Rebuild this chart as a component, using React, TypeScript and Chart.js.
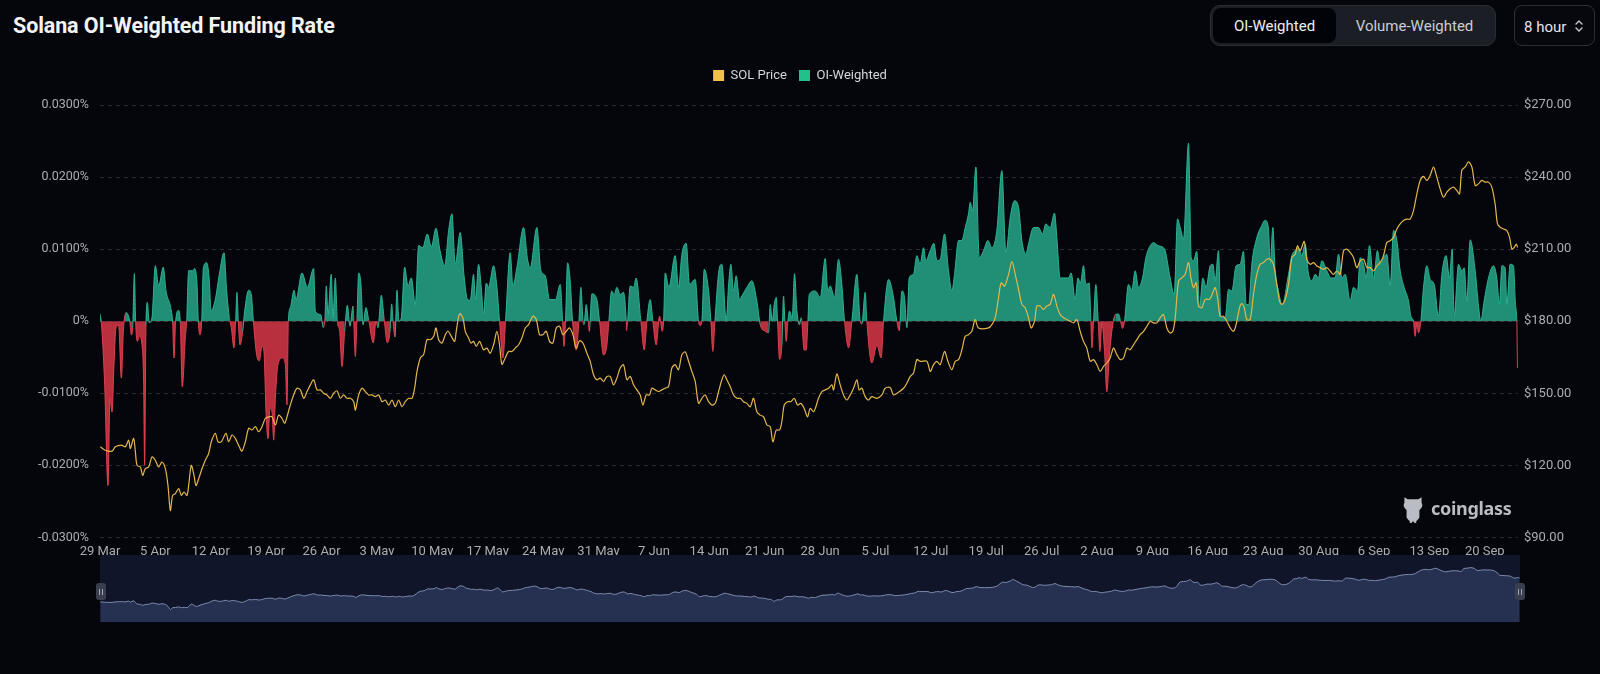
import React, { useEffect, useRef } from 'react';
import { Chart, registerables } from 'chart.js';

Chart.register(...registerables);

// ---------- data ----------
const xTickLabels = ['29 Mar', '5 Apr', '12 Apr', '19 Apr', '26 Apr', '3 May', '10 May', '17 May', '24 May', '31 May', '7 Jun', '14 Jun', '21 Jun', '28 Jun', '5 Jul', '12 Jul', '19 Jul', '26 Jul', '2 Aug', '9 Aug', '16 Aug', '23 Aug', '30 Aug', '6 Sep', '13 Sep', '20 Sep'];
const xTickDays = [0, 7, 14, 21, 28, 35, 42, 49, 56, 63, 70, 77, 84, 91, 98, 105, 112, 119, 126, 133, 140, 147, 154, 161, 168, 175];
const lastDay = 179.2;

const fundingTicks = [-0.03, -0.02, -0.01, 0, 0.01, 0.02, 0.03];
const priceTicks = [90, 120, 150, 180, 210, 240, 270];

// days since 29 Mar
const fundingDays = [
  0.0, 0.17, 0.59, 1.01, 1.26, 1.52, 1.77, 2.02, 2.36, 2.70, 2.95, 3.29, 3.79, 3.96, 4.13, 4.34, 4.51, 4.72, 4.97, 5.31,
  5.52, 5.64, 5.81, 5.98, 6.23, 6.57, 6.99, 7.41, 8.00, 8.34, 8.93, 9.18, 9.35, 9.56, 9.94, 10.15, 10.40, 10.78, 10.95, 11.20,
  11.71, 11.96, 12.26, 12.43, 12.64, 12.85, 13.06, 13.48, 13.82, 14.03, 14.57, 15.08, 15.67, 16.01, 16.34, 16.60, 16.93, 17.14, 17.31, 17.48,
  17.69, 18.03, 18.28, 18.79, 19.12, 19.38, 19.80, 20.13, 20.47, 20.72, 20.98, 21.23, 21.48, 21.74, 21.95, 22.16, 22.49, 23.08, 23.42, 23.63,
  23.80, 24.09, 24.52, 24.77, 25.53, 26.20, 27.00, 27.21, 27.89, 28.22, 28.43, 28.60, 28.81, 29.23, 29.44, 29.74, 29.99, 30.29, 30.58, 30.92,
  31.26, 31.59, 31.97, 32.27, 32.48, 32.69, 32.98, 33.24, 33.61, 33.95, 34.54, 34.88, 35.13, 35.55, 35.89, 36.31, 36.65, 36.86, 37.03, 37.28,
  37.53, 37.78, 38.08, 38.50, 38.92, 39.34, 39.85, 40.27, 40.78, 41.37, 41.87, 42.46, 42.97, 43.56, 44.06, 44.48,
  44.89, 45.52, 46.03, 46.45, 46.79, 47.21, 47.46, 47.84, 48.18, 48.47, 48.81, 49.10, 49.74, 50.16, 50.49, 50.92, 51.25, 51.84, 52.18, 52.68,
  53.53, 54.03, 54.37, 55.21, 55.72, 56.27, 56.81, 57.57, 58.16, 58.46, 58.62, 58.83, 59.09, 59.42, 59.72, 60.18, 60.52, 60.77, 61.03, 61.15,
  61.45, 61.70, 61.83, 62.16, 62.79, 63.13, 63.64, 64.06, 64.31, 64.65, 64.98, 65.32, 65.74, 66.16, 66.50, 66.54, 66.67, 67.01, 67.43, 67.76,
  68.35, 68.78, 69.11, 69.53, 69.87, 70.29, 70.71, 71.05, 71.22, 71.43, 71.89, 72.69, 73.11, 73.54, 74.08, 74.50, 75.22, 75.64, 75.85, 76.06,
  76.36, 76.91, 77.20, 77.45, 77.71, 78.21, 78.59, 79.14, 79.43, 79.73, 80.06, 80.40, 80.82, 81.12, 81.75, 82.38, 83.01, 83.44, 84.07, 84.49,
  84.70, 84.95, 85.20, 85.46, 85.62, 85.88, 86.17, 86.38, 86.55, 86.72, 86.93, 87.14, 87.48, 87.77, 88.07, 88.40, 88.62, 88.99, 89.25, 89.46,
  89.63, 90.38, 91.02, 91.65, 91.98, 92.28, 92.83, 93.33, 93.75, 94.09, 94.60, 95.02, 95.65, 96.07, 96.28, 96.70, 96.91, 97.54, 98.18, 98.72,
  99.02, 99.65, 100.28, 100.70, 101.00, 101.34, 101.67, 101.97, 102.26, 102.81, 103.23, 103.65, 104.07, 104.37, 104.92, 105.38, 105.76, 106.18, 106.73, 107.23,
  107.65, 107.99, 108.50, 108.92, 109.34, 109.76, 109.97, 110.27, 110.69, 111.11, 111.66, 112.20, 112.71, 113.34, 113.97, 114.48, 115.03, 115.57, 116.08, 116.50,
  117.01, 117.34, 117.97, 118.61, 119.11, 119.53, 120.08, 120.63, 120.92, 121.34, 122.40, 122.73, 123.24, 123.58, 123.91, 124.29, 124.59, 125.01, 125.22, 125.35,
  125.56, 125.85, 126.15, 126.36, 126.61, 126.95, 127.24, 127.54, 127.87, 128.30, 128.72, 128.97, 129.22, 129.47, 129.98, 130.40, 130.82, 131.24, 131.75, 132.17,
  132.59, 133.14, 133.69, 134.40,
  134.61, 135.24, 135.75, 136.17, 136.51, 136.93, 137.56, 137.90, 138.19, 138.61, 138.95, 139.37, 139.79, 140.30, 140.64, 140.93, 141.35, 141.65, 142.19, 142.62,
  143.04, 143.58, 144.09, 144.51, 144.85, 145.18, 145.56, 146.20, 146.83, 147.25, 147.67, 147.88, 148.22, 148.51, 148.93, 149.40, 150.20, 150.62, 151.04, 151.46,
  151.88, 152.30, 152.73, 153.15, 153.57, 153.99, 154.41, 155.04, 155.55, 156.09, 156.52, 156.94, 157.36, 157.99, 158.41, 158.92, 159.25, 159.68, 160.01, 160.43,
  160.94, 161.44, 161.78, 162.20, 162.62, 163.05, 163.47, 163.89, 164.31, 164.81, 165.36, 165.66, 165.99, 166.20, 166.42, 166.63, 166.92, 167.26, 167.68, 168.10,
  168.61, 169.15, 169.58, 170.12, 170.54, 170.88, 171.13, 171.68, 172.10, 172.40, 172.73, 173.16, 173.79, 174.21, 174.50, 174.92, 175.47, 176.10, 176.52, 176.86,
  177.16, 177.58, 177.79, 178.21, 178.63, 178.88, 179.05, 179.13,
];

// OI-weighted funding rate, in %
const fundingRates = [
  0.0010, -0.0002, -0.0088, -0.0228, -0.0107, -0.0126, -0.0060, -0.0009, -0.0006, -0.0079, -0.0014, 0.0012, -0.0002, -0.0019, -0.0009, 0.0066, -0.0002, -0.0028, -0.0021, -0.0033,
  -0.0088, -0.0200, -0.0005, 0.0026, -0.0002, 0.0005, 0.0077, 0.0049, 0.0075, 0.0042, 0.0019, -0.0002, -0.0051, 0.0000, 0.0015, -0.0002, -0.0091, -0.0023, 0.0000, 0.0070,
  0.0070, 0.0073, 0.0051, -0.0002, -0.0019, 0.0000, 0.0074, 0.0081, 0.0056, 0.0014, 0.0030, 0.0065, 0.0095, 0.0042, 0.0005, -0.0009, -0.0037, 0.0000, 0.0040, 0.0000,
  -0.0033, -0.0014, 0.0014, 0.0043, 0.0037, 0.0000, -0.0047, -0.0055, -0.0035, -0.0042, -0.0126, -0.0163, -0.0121, -0.0126, -0.0165, -0.0107, -0.0060, -0.0051, -0.0060, -0.0116,
  0.0000, 0.0020, 0.0043, 0.0030, 0.0067, 0.0047, 0.0073, 0.0014, 0.0009, -0.0009, 0.0005, 0.0049, 0.0009, 0.0065, 0.0005, 0.0060, 0.0000, -0.0014, -0.0063, -0.0014,
  0.0022, -0.0007, 0.0021, -0.0049, 0.0005, 0.0067, 0.0051, -0.0005, 0.0019, 0.0002, -0.0030, 0.0000, -0.0009, 0.0036, 0.0005, -0.0030, -0.0014, 0.0024, 0.0000, -0.0022,
  0.0043, 0.0000, 0.0005, 0.0075, 0.0049, 0.0060, 0.0023, 0.0105, 0.0102, 0.0121, 0.0103, 0.0129, 0.0098, 0.0077, 0.0126, 0.0149,
  0.0079, 0.0123, 0.0060, 0.0030, 0.0029, 0.0065, 0.0030, 0.0079, 0.0047, 0.0010, 0.0053, 0.0047, 0.0077, 0.0047, 0.0000, -0.0051, 0.0000, 0.0095, 0.0049, 0.0074,
  0.0130, 0.0086, 0.0074, 0.0130, 0.0070, 0.0063, 0.0030, 0.0030, 0.0051, 0.0000, -0.0035, 0.0000, 0.0081, 0.0056, 0.0000, -0.0040, 0.0000, 0.0047, 0.0002, -0.0005,
  0.0023, 0.0000, -0.0014, 0.0038, 0.0030, 0.0000, -0.0047, -0.0033, 0.0000, 0.0042, 0.0037, 0.0047, 0.0037, 0.0040, 0.0000, -0.0013, 0.0000, 0.0049, 0.0047, 0.0060,
  0.0000, -0.0040, 0.0000, 0.0030, 0.0000, -0.0033, 0.0007, -0.0014, 0.0000, 0.0067, 0.0047, 0.0091, 0.0047, 0.0093, 0.0108, 0.0051, 0.0058, 0.0000, -0.0006, 0.0000,
  0.0072, 0.0042, 0.0000, -0.0042, 0.0000, 0.0070, 0.0079, 0.0000, 0.0049, 0.0079, 0.0042, 0.0063, 0.0030, 0.0035, 0.0047, 0.0056, 0.0028, -0.0005, -0.0014, -0.0016,
  0.0023, 0.0000, 0.0023, 0.0033, 0.0000, -0.0053, -0.0033, 0.0035, 0.0000, -0.0028, 0.0000, 0.0014, 0.0005, 0.0066, 0.0014, -0.0005, 0.0005, -0.0040, -0.0040, 0.0000,
  0.0037, 0.0042, 0.0033, 0.0087, 0.0042, 0.0049, 0.0033, 0.0086, 0.0051, 0.0000, -0.0037, 0.0000, 0.0065, 0.0000, -0.0004, 0.0040, 0.0000, -0.0058, -0.0033, -0.0051,
  0.0000, 0.0058, 0.0033, 0.0000, -0.0013, 0.0042, 0.0033, -0.0009, 0.0060, 0.0065, 0.0091, 0.0079, 0.0102, 0.0084, 0.0098, 0.0108, 0.0084, 0.0086, 0.0121, 0.0070,
  0.0042, 0.0065, 0.0112, 0.0112, 0.0130, 0.0149, 0.0165, 0.0153, 0.0214, 0.0088, 0.0098, 0.0112, 0.0102, 0.0126, 0.0209, 0.0095, 0.0144, 0.0167, 0.0158, 0.0112,
  0.0093, 0.0107, 0.0130, 0.0130, 0.0121, 0.0135, 0.0130, 0.0150, 0.0116, 0.0060, 0.0060, 0.0067, 0.0030, 0.0060, 0.0053, 0.0077, 0.0051, 0.0053, 0.0000, -0.0037,
  0.0000, 0.0051, 0.0000, -0.0042, -0.0002, -0.0042, -0.0098, -0.0051, -0.0014, 0.0009, 0.0010, 0.0000, -0.0010, 0.0000, 0.0051, 0.0043, 0.0070, 0.0047, 0.0060, 0.0088,
  0.0102, 0.0109, 0.0105, 0.0102,
  0.0098, 0.0060, 0.0037, 0.0142, 0.0130, 0.0114, 0.0247, 0.0088, 0.0084, 0.0097, 0.0019, 0.0060, 0.0047, 0.0077, 0.0079, 0.0056, 0.0098, 0.0005, 0.0005, 0.0044,
  0.0042, 0.0077, 0.0079, 0.0097, 0.0023, 0.0023, 0.0079, 0.0116, 0.0133, 0.0140, 0.0128, 0.0079, 0.0130, 0.0070, 0.0042, 0.0023, 0.0065, 0.0091, 0.0098, 0.0102,
  0.0091, 0.0107, 0.0065, 0.0056, 0.0065, 0.0060, 0.0084, 0.0070, 0.0060, 0.0060, 0.0093, 0.0060, 0.0065, 0.0028, 0.0047, 0.0042, 0.0088, 0.0079, 0.0060, 0.0105,
  0.0060, 0.0098, 0.0079, 0.0088, 0.0093, 0.0049, 0.0126, 0.0112, 0.0070, 0.0047, 0.0028, 0.0007, 0.0000, -0.0021, -0.0002, -0.0016, 0.0000, 0.0047, 0.0077, 0.0058,
  0.0051, 0.0007, 0.0065, 0.0091, 0.0060, 0.0100, 0.0007, 0.0079, 0.0070, 0.0074, 0.0028, 0.0113, 0.0070, 0.0021, 0.0000, 0.0028, 0.0060, 0.0077, 0.0060, 0.0023,
  0.0077, 0.0074, 0.0023, 0.0079, 0.0077, 0.0023, 0.0000, -0.0065,
];

const priceDays = [
  0.04, 0.67, 1.52, 1.94, 2.70, 3.20, 3.62, 3.83, 4.25, 4.47, 4.68, 5.10, 5.39, 5.73, 6.15, 6.57, 6.99, 7.41, 7.83, 8.26,
  8.59, 8.89, 9.18, 9.52, 9.94, 10.28, 10.62, 10.99, 11.20, 11.54, 11.88, 12.13, 12.47, 12.89, 13.31, 13.73, 14.07, 14.57, 14.91, 15.33,
  15.92, 16.26, 16.68, 17.10, 17.61, 17.94, 18.37, 18.79, 19.21, 19.63, 20.05, 20.47, 20.89, 21.31, 21.74, 22.16, 22.58, 23.00, 23.34, 23.63,
  24.05, 24.47, 24.89, 25.32, 25.74, 26.16, 26.58, 27.00, 27.42, 27.84, 28.26, 28.69, 29.11, 29.53, 29.95, 30.37, 30.79, 31.21, 31.63, 32.06,
  32.27, 32.69, 33.11, 33.53, 33.95, 34.37, 34.79, 35.22, 35.64, 36.06, 36.48, 36.90, 37.32, 37.74, 38.16, 38.58, 39.01, 39.43, 39.76, 40.06,
  40.48, 40.90, 41.32, 41.74, 42.17, 42.46, 42.80, 43.22, 43.64, 43.98, 44.40, 44.82,
  45.02, 45.44, 45.86, 46.16, 46.58, 46.87, 47.21, 47.55, 47.97, 48.47, 48.89, 49.31, 49.74, 50.16, 50.49, 50.79, 51.21, 51.63, 52.05, 52.47,
  52.90, 53.32, 53.74, 54.16, 54.71, 55.13, 55.55, 55.97, 56.39, 56.81, 57.23, 57.66, 58.08, 58.50, 58.92, 59.34, 59.76, 60.18, 60.60, 61.03,
  61.53, 61.95, 62.37, 62.79, 63.22, 63.64, 64.06, 64.48, 64.90, 65.32, 65.74, 66.16, 66.59, 67.01, 67.43, 67.85, 68.27, 68.61, 69.03, 69.45,
  69.74, 70.17, 70.59, 71.01, 71.43, 71.85, 72.27, 72.69, 73.11, 73.54, 73.96, 74.38, 74.80, 75.22, 75.64, 76.06, 76.48, 76.91, 77.33, 77.75,
  78.17, 78.59, 78.88, 79.22, 79.64, 80.06, 80.49, 80.91, 81.33, 81.75, 82.17, 82.59, 83.01, 83.44, 83.86, 84.28, 84.70, 85.04, 85.46, 85.88,
  86.17, 86.47, 86.89, 87.31, 87.73, 88.15, 88.57, 88.99, 89.42,
  89.75, 90.17, 90.47, 90.80, 91.23, 91.65, 92.07, 92.49, 92.70, 93.12, 93.54, 93.96, 94.39, 94.81, 95.23, 95.65, 95.94, 96.28, 96.70, 97.12,
  97.54, 98.18, 98.81, 99.23, 99.86, 100.28, 100.91, 101.55, 101.97, 102.39, 102.81, 103.23, 103.65, 104.50, 104.92, 105.34, 105.76, 106.18, 106.73, 107.15,
  107.65, 108.08, 108.50, 108.92, 109.34, 109.76, 110.18, 110.60, 111.02, 112.29, 112.71, 113.13, 113.55, 113.89, 114.31, 114.82, 115.24, 115.66, 116.08, 116.50,
  116.92, 117.34, 117.68, 118.10, 118.40, 118.82, 119.24, 119.66, 120.08, 120.50, 120.92, 121.34, 121.77, 122.61, 123.03, 123.45, 123.87, 124.29, 124.71, 125.14,
  125.56, 125.98, 126.40, 126.82, 127.24, 127.66, 128.08, 128.50, 128.93, 129.35, 129.77, 130.19, 130.61, 131.03, 131.45, 131.88, 132.30, 132.72, 133.14, 133.56,
  133.98, 134.40,
  134.82, 135.24, 135.58, 135.88, 136.30, 136.72, 137.14, 137.56, 137.86, 138.19, 138.53, 138.82, 139.25, 139.67, 140.21, 140.64, 140.93, 141.23, 141.56, 141.98,
  142.40, 142.83, 143.25, 143.58, 144.01, 144.30, 144.60, 144.93, 145.35, 145.77, 146.20, 146.62, 147.04, 147.46, 147.88, 148.30, 148.72, 149.06, 149.36, 149.78,
  150.20, 150.62, 151.04, 151.33, 151.67, 152.18, 152.51, 152.94, 153.36, 153.78, 154.20, 154.62, 155.04, 155.46, 155.88, 156.31, 156.73, 157.15, 157.57, 157.99,
  158.41, 158.83, 159.25, 159.68, 160.10, 160.52, 160.94, 161.36, 161.78, 162.20, 162.62, 163.05, 163.47, 163.89, 164.31, 164.73, 165.15, 165.57, 165.99, 166.42,
  166.84, 167.26, 167.68, 168.10, 168.52, 168.94, 169.36, 169.79, 170.21, 170.63, 171.05, 171.47, 171.81, 172.10, 172.52, 172.94, 173.37, 173.79, 174.21, 174.63,
  175.05, 175.47, 175.89, 176.31, 176.61, 176.95, 177.37, 177.79, 178.13, 178.43, 178.72, 178.98, 179.15,
];

// SOL price, USD
const solPrices = [
  127.7, 126.3, 125.9, 127.7, 128.4, 127.7, 130.5, 127.0, 131.2, 125.6, 120.0, 119.3, 115.8, 118.6, 119.3, 123.5, 122.1, 119.3, 121.4, 118.6,
  111.6, 101.2, 107.5, 108.2, 110.3, 107.5, 108.9, 107.5, 111.6, 120.0, 115.8, 111.6, 114.4, 118.6, 122.1, 124.9, 129.8, 133.3, 129.8, 129.8,
  133.3, 129.8, 132.6, 131.2, 127.7, 125.9, 129.8, 135.4, 134.7, 136.1, 134.0, 136.1, 139.5, 140.2, 140.2, 136.8, 140.9, 139.5, 137.5, 140.2,
  145.1, 149.3, 152.1, 151.4, 147.9, 150.7, 153.5, 155.6, 151.4, 151.4, 150.0, 149.3, 147.9, 150.0, 151.0, 147.9, 149.3, 147.9, 147.9, 146.5,
  143.0, 149.3, 152.1, 150.7, 149.3, 149.3, 148.6, 149.3, 146.5, 147.2, 145.1, 147.2, 144.4, 147.2, 144.4, 146.5, 147.9, 147.9, 152.1, 159.1,
  164.7, 166.1, 172.3, 172.3, 173.7, 177.2, 172.3, 170.9, 174.4, 175.8, 173.7, 171.6,
  175.8, 183.1, 181.4, 175.8, 173.0, 170.9, 171.6, 169.5, 171.6, 168.1, 168.8, 166.7, 170.2, 175.8, 170.2, 162.1, 164.7, 167.4, 167.4, 168.8,
  170.2, 173.0, 177.2, 178.6, 182.1, 180.7, 174.4, 174.4, 175.8, 171.6, 170.9, 177.2, 177.9, 174.4, 175.8, 177.2, 174.4, 168.8, 171.9, 170.9,
  166.7, 163.3, 157.7, 155.6, 156.3, 154.9, 157.0, 157.0, 153.5, 156.3, 160.5, 161.9, 155.6, 157.0, 153.5, 151.4, 149.3, 145.1, 149.3, 149.3,
  152.1, 151.4, 150.7, 151.4, 152.1, 152.8, 160.5, 161.9, 159.8, 166.1, 167.2, 163.3, 159.1, 154.9, 145.8, 147.9, 149.3, 146.5, 145.1, 145.8,
  150.7, 155.6, 157.7, 155.6, 152.8, 149.3, 147.9, 147.9, 146.5, 145.8, 144.4, 147.9, 142.3, 140.9, 140.2, 136.8, 136.1, 129.8, 134.7, 134.7,
  138.2, 145.1, 146.5, 146.5, 147.9, 145.1, 145.8, 143.7, 140.2,
  143.7, 142.3, 144.4, 147.9, 150.7, 151.4, 152.1, 153.5, 151.4, 158.0, 153.5, 149.3, 147.2, 149.3, 152.1, 155.6, 151.4, 152.1, 148.6, 147.2,
  148.6, 147.9, 149.3, 152.1, 152.4, 149.3, 150.4, 152.1, 154.2, 157.0, 158.4, 164.0, 163.3, 163.3, 159.1, 161.9, 163.3, 161.9, 167.4, 163.3,
  159.8, 163.3, 164.0, 168.1, 173.7, 174.4, 175.8, 180.7, 177.2, 177.2, 178.6, 181.4, 189.8, 196.0, 194.6, 199.5, 204.8, 199.5, 193.3, 187.0,
  185.6, 181.4, 177.2, 180.0, 186.3, 186.3, 184.9, 186.3, 187.0, 191.2, 186.3, 182.8, 181.4, 180.0, 179.3, 180.7, 175.8, 171.6, 168.8, 163.3,
  164.0, 161.9, 159.1, 161.2, 162.6, 164.7, 168.8, 166.1, 164.0, 164.7, 168.8, 168.1, 170.2, 172.3, 174.4, 175.8, 177.9, 180.0, 179.3, 179.3,
  181.4, 182.8,
  177.2, 175.1, 175.8, 181.4, 196.7, 198.1, 199.5, 204.4, 198.1, 194.0, 196.0, 186.3, 185.6, 189.1, 189.1, 191.9, 194.0, 189.8, 182.1, 182.1,
  180.0, 177.2, 175.8, 178.6, 185.6, 187.3, 185.6, 180.7, 180.7, 191.2, 199.5, 203.7, 204.4, 205.8, 205.8, 203.7, 195.3, 188.4, 187.0, 189.1,
  195.3, 206.5, 207.9, 211.4, 209.3, 213.2, 205.8, 203.7, 204.4, 203.0, 202.3, 201.6, 202.3, 200.9, 199.5, 200.9, 199.5, 209.3, 210.0, 208.6,
  206.5, 202.3, 205.1, 205.8, 202.3, 202.3, 200.9, 203.0, 204.4, 207.2, 212.8, 213.5, 214.9, 218.4, 220.5, 221.9, 222.5, 222.5, 226.0, 233.0,
  238.6, 240.3, 238.6, 240.7, 244.2, 240.0, 235.1, 231.6, 233.7, 235.1, 235.8, 234.4, 233.0, 242.8, 244.2, 246.3, 244.2, 236.5, 237.2, 238.6,
  237.9, 237.9, 235.8, 228.8, 220.5, 219.1, 218.4, 217.7, 214.9, 210.0, 210.7, 212.1, 210.7,
];

// ---------- styles ----------
const BG = '#05060c';
const TEAL_FILL = '#218e76';
const TEAL_LINE = '#2cb394';
const RED_FILL = '#b82f3e';
const RED_LINE = '#e0404f';
const PRICE_LINE = '#e3b64c';
const LEGEND_COLORS = ['#f0c14b', '#22c08b'];
const TICK_COLOR = '#a9acb4';
const GRID_COLOR = '#2a2d36';
const FONT_FAMILY = 'Roboto, "Noto Sans", sans-serif';

const fmtFunding = (v: number) => (Math.abs(v) < 1e-9 ? '0%' : v.toFixed(4) + '%');

function MainChart() {
  const ref = useRef<HTMLCanvasElement | null>(null);
  useEffect(() => {
    if (!ref.current) return;
    const fundingData = fundingDays.map((d, i) => ({ x: d, y: fundingRates[i] }));
    const priceData = priceDays.map((d, i) => ({ x: d, y: solPrices[i] }));
    const legendSpacer = {
      id: 'legendSpacer',
      beforeInit(chart: any) {
        const orig = chart.legend.fit;
        chart.legend.fit = function () {
          orig.bind(chart.legend)();
          this.height += 13;
        };
      },
    };
    const chart = new Chart(ref.current, {
      type: 'line',
      data: {
        datasets: [
          {
            label: 'SOL Price',
            data: priceData,
            yAxisID: 'yPrice',
            borderColor: PRICE_LINE,
            backgroundColor: LEGEND_COLORS[0],
            borderWidth: 1.2,
            pointRadius: 0,
            tension: 0.3,
            fill: false,
          },
          {
            label: 'OI-Weighted',
            data: fundingData,
            yAxisID: 'y',
            borderColor: TEAL_LINE,
            backgroundColor: LEGEND_COLORS[1],
            borderWidth: 1,
            pointRadius: 0,
            cubicInterpolationMode: 'monotone',
            fill: { target: { value: 0 }, above: TEAL_FILL, below: RED_FILL },
            segment: {
              borderColor: (ctx: any) => ((ctx.p0.parsed.y + ctx.p1.parsed.y) / 2 < 0 ? RED_LINE : TEAL_LINE),
            },
          },
        ],
      },
      options: {
        animation: false,
        responsive: true,
        maintainAspectRatio: false,
        devicePixelRatio: 1,
        layout: { padding: 0 },
        events: [],
        plugins: {
          tooltip: { enabled: false },
          legend: {
            display: true,
            position: 'top',
            labels: {
              color: '#d4d6db',
              font: { family: FONT_FAMILY, size: 13 },
              boxWidth: 11,
              boxHeight: 11,
              padding: 12,
              generateLabels: (c: any) =>
                c.data.datasets.map((ds: any, i: number) => ({
                  text: ds.label,
                  fillStyle: LEGEND_COLORS[i],
                  strokeStyle: LEGEND_COLORS[i],
                  lineWidth: 0,
                  hidden: false,
                  datasetIndex: i,
                  fontColor: '#d4d6db',
                })),
            },
          },
        },
        scales: {
          x: {
            type: 'linear',
            min: 0,
            max: lastDay,
            afterBuildTicks: (s: any) => {
              s.ticks = xTickDays.map((v) => ({ value: v }));
            },
            ticks: {
              autoSkip: false,
              maxRotation: 0,
              padding: 7,
              color: TICK_COLOR,
              font: { family: FONT_FAMILY, size: 13 },
              callback: (v: any) => {
                const i = xTickDays.indexOf(Number(v));
                return i >= 0 ? xTickLabels[i] : '';
              },
            },
            grid: { display: false, drawTicks: false },
            border: { display: false },
          },
          y: {
            position: 'left',
            min: -0.03,
            max: 0.03,
            afterBuildTicks: (s: any) => {
              s.ticks = fundingTicks.map((v) => ({ value: v }));
            },
            afterFit: (s: any) => {
              s.width = 100;
            },
            ticks: { color: TICK_COLOR, font: { family: FONT_FAMILY, size: 12.5 }, padding: 11, callback: (v: any) => fmtFunding(Number(v)) },
            grid: { color: GRID_COLOR, drawTicks: false, lineWidth: 1 },
            border: { display: false, dash: [4, 4] },
          },
          yPrice: {
            position: 'right',
            min: 90,
            max: 270,
            afterBuildTicks: (s: any) => {
              s.ticks = priceTicks.map((v) => ({ value: v }));
            },
            afterFit: (s: any) => {
              s.width = 82;
            },
            ticks: { color: TICK_COLOR, font: { family: FONT_FAMILY, size: 13 }, padding: 6, callback: (v: any) => '$' + Number(v).toFixed(2) },
            grid: { display: false, drawTicks: false },
            border: { display: false },
          },
        },
      },
      plugins: [legendSpacer],
    } as any);
    return () => chart.destroy();
  }, []);
  return (
    <div style={{ position: 'absolute', left: 0, top: 57, width: 1600, height: 510 }}>
      <canvas ref={ref} />
    </div>
  );
}

function Navigator() {
  const ref = useRef<HTMLCanvasElement | null>(null);
  useEffect(() => {
    if (!ref.current) return;
    const priceData = priceDays.map((d, i) => ({ x: d, y: solPrices[i] }));
    const chart = new Chart(ref.current, {
      type: 'line',
      data: {
        datasets: [
          {
            data: priceData,
            borderColor: '#7f8cb0',
            backgroundColor: '#263050',
            borderWidth: 1,
            pointRadius: 0,
            tension: 0.3,
            fill: 'start',
          },
        ],
      },
      options: {
        animation: false,
        responsive: true,
        maintainAspectRatio: false,
        devicePixelRatio: 1,
        events: [],
        layout: { padding: 0 },
        plugins: { legend: { display: false }, tooltip: { enabled: false } },
        scales: {
          x: { type: 'linear', min: 0, max: lastDay, display: false },
          y: { min: 58, max: 290, display: false },
        },
      },
    } as any);
    return () => chart.destroy();
  }, []);
  return (
    <div style={{ position: 'absolute', left: 100, top: 555, width: 1420, height: 67, background: '#10152a' }}>
      <canvas ref={ref} />
    </div>
  );
}

function Handle({ left }: { left: number }) {
  return (
    <div
      style={{
        position: 'absolute',
        left,
        top: 583,
        width: 10,
        height: 17,
        borderRadius: 3,
        background: '#3a3f50',
        display: 'flex',
        alignItems: 'center',
        justifyContent: 'center',
        gap: 2,
      }}
    >
      <div style={{ width: 1, height: 6, background: '#9da3b4' }} />
      <div style={{ width: 1, height: 6, background: '#9da3b4' }} />
    </div>
  );
}

export default function App() {
  useEffect(() => {
    document.body.style.margin = '0';
    document.body.style.background = BG;
  }, []);
  return (
    <div style={{ position: 'fixed', left: 0, top: 0, width: 1600, height: 674, background: BG, overflow: 'hidden', fontFamily: FONT_FAMILY }}>
      <div style={{ position: 'absolute', left: 13, top: 14, fontSize: 21.5, lineHeight: '24px', fontWeight: 700, color: '#f2f3f5', letterSpacing: -0.1, whiteSpace: 'nowrap' }}>
        Solana OI-Weighted Funding Rate
      </div>
      {/* segmented control */}
      <div style={{ position: 'absolute', left: 1210, top: 5, width: 286, height: 41, boxSizing: 'border-box', borderRadius: 10, background: '#1c1e25', border: '1px solid #2a2c34' }} />
      <div style={{ position: 'absolute', left: 1213, top: 8, width: 123, height: 35, borderRadius: 8, background: '#020308', color: '#eceef1', fontSize: 15, lineHeight: '37px', textAlign: 'center' }}>
        OI-Weighted
      </div>
      <div style={{ position: 'absolute', left: 1336, top: 8, width: 157, height: 35, color: '#c9ccd2', fontSize: 15, lineHeight: '37px', textAlign: 'center' }}>
        Volume-Weighted
      </div>
      {/* select */}
      <div style={{ position: 'absolute', left: 1514, top: 5, width: 81, height: 41, boxSizing: 'border-box', borderRadius: 8, border: '1px solid #2c2e36', background: '#07080e', color: '#e4e6ea', fontSize: 15, lineHeight: '42px', paddingLeft: 9 }}>
        8 hour
        <svg width="10" height="14" viewBox="0 0 10 14" style={{ position: 'absolute', left: 59, top: 13 }}>
          <path d="M2 5 L5 2 L8 5" stroke="#c4c7cd" strokeWidth="1.4" fill="none" strokeLinecap="round" strokeLinejoin="round" />
          <path d="M2 9 L5 12 L8 9" stroke="#c4c7cd" strokeWidth="1.4" fill="none" strokeLinecap="round" strokeLinejoin="round" />
        </svg>
      </div>
      <MainChart />
      {/* watermark */}
      <svg width="26" height="30" viewBox="0 0 24 28" style={{ position: 'absolute', left: 1400, top: 494 }}>
        <path d="M4 3 L7 5 L17 5 L20 3 L20 8 Q22 12 18 15 L18 22 Q16 26 12 26 Q8 26 6 22 L6 15 Q2 12 4 8 Z" fill="#b9bcc3" />
        <rect x="9" y="24" width="2" height="3" fill="#b9bcc3" />
        <rect x="13" y="24" width="2" height="3" fill="#b9bcc3" />
      </svg>
      <div style={{ position: 'absolute', left: 1431, top: 496, fontSize: 18, lineHeight: '24px', fontWeight: 700, color: '#b9bcc3', fontFamily: '"Noto Sans", Roboto, sans-serif', letterSpacing: -0.3 }}>
        coinglass
      </div>
      <Navigator />
      <Handle left={96} />
      <Handle left={1515} />
    </div>
  );
}
